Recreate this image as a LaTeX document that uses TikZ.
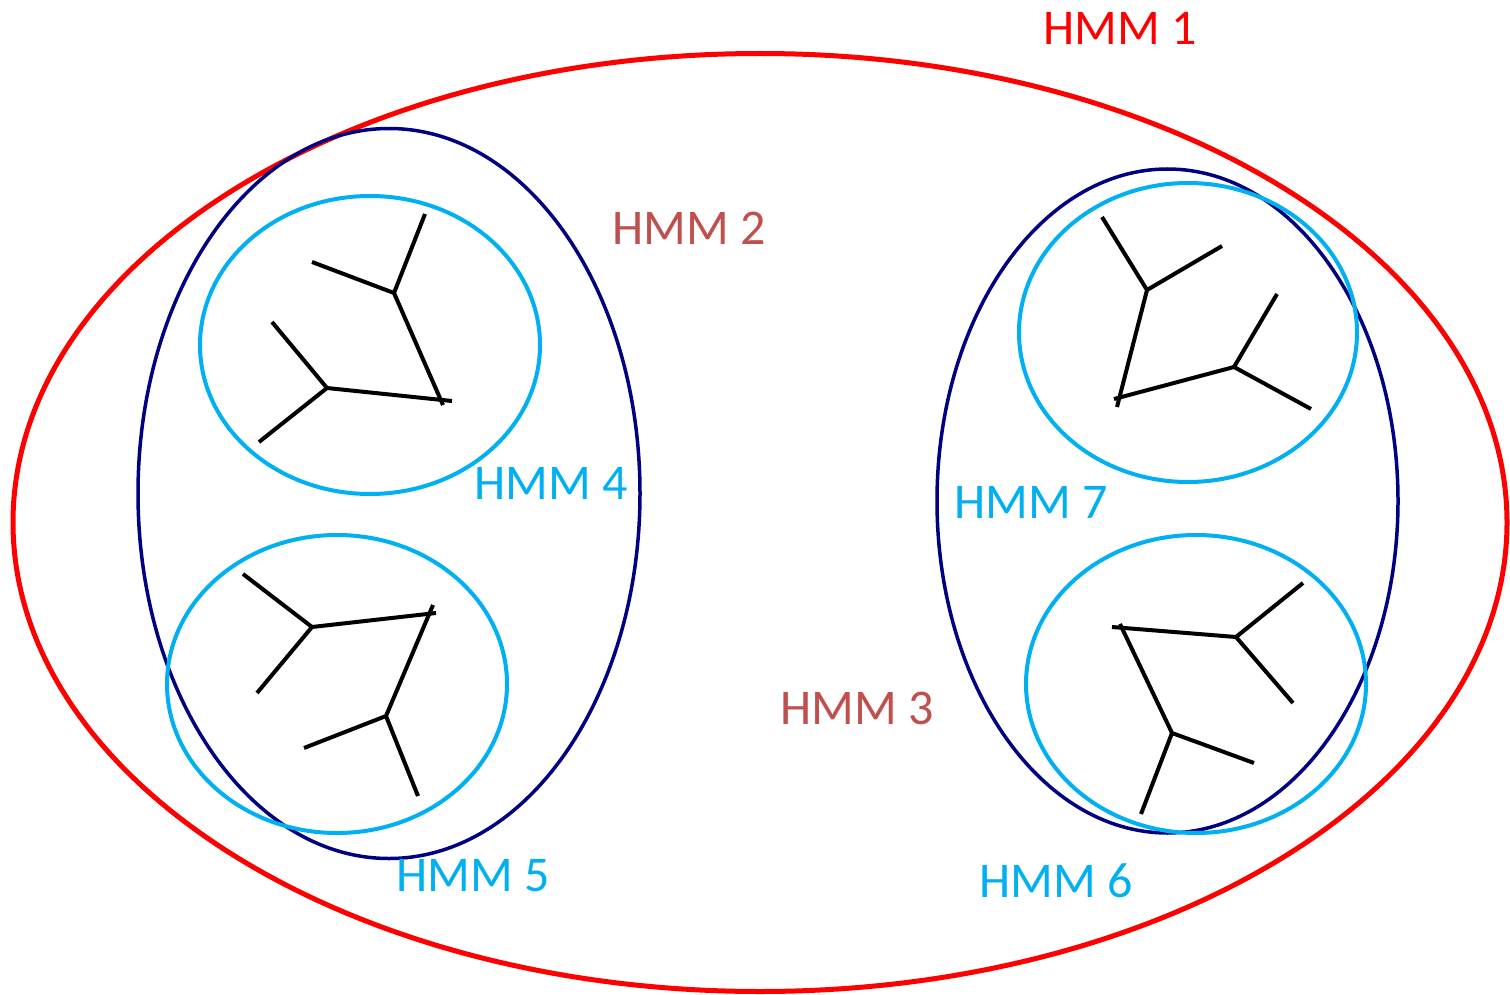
\documentclass[tikz,border=0pt]{standalone}
\usepackage{fontspec}
\setmainfont{Carlito}
\definecolor{hred}{HTML}{FF0000}
\definecolor{hnavy}{HTML}{000080}
\definecolor{hsky}{HTML}{00B0F0}
\definecolor{hbrick}{HTML}{C0504D}
\begin{document}
\begin{tikzpicture}[x=1pt,y=-1pt,
  outer/.style={draw=hred,line width=5pt},
  mid/.style={draw=hnavy,line width=3.5pt},
  inner/.style={draw=hsky,line width=4pt},
  branch/.style={draw=black,line width=4pt},
  lbl/.style={font=\fontsize{50}{60}\selectfont,inner sep=0pt,anchor=center}]
\useasboundingbox (0,0) rectangle (1510,995);
% ellipses
\draw[outer] (760,522.5) ellipse [x radius=747, y radius=469];
\draw[mid] (389,493.5) ellipse [x radius=251, y radius=365];
\draw[mid] (1167.5,501) ellipse [x radius=230.5, y radius=332];
\draw[inner] (370,345) ellipse [x radius=170, y radius=149];
\draw[inner] (337,684) ellipse [x radius=170, y radius=149];
\draw[inner] (1188,332.5) ellipse [x radius=169, y radius=149.5];
\draw[inner] (1196,684) ellipse [x radius=170, y radius=149];
% labels
\node[lbl,text=hred] (h1) at (1120,28) {HMM 1};
\node[lbl,text=hbrick] (h2) at (689,228) {HMM 2};
\node[lbl,text=hbrick] (h3) at (857,708) {HMM 3};
\node[lbl,text=hsky] (h4) at (551,483) {HMM 4};
\node[lbl,text=hsky] (h5) at (473,876) {HMM 5};
\node[lbl,text=hsky] (h6) at (1056,881) {HMM 6};
\node[lbl,text=hsky] (h7) at (1031,502) {HMM 7};
% tree 1 (top-left)
\coordinate (a1) at (394,293);
\coordinate (a2) at (327,388);
\coordinate (a1l) at (425,214);
\coordinate (a1m) at (312,262);
\coordinate (a1e) at (443,405);
\coordinate (a2l) at (272,322);
\coordinate (a2m) at (259,442);
\coordinate (a2e) at (452,401);
\draw[branch] (a1) -- (a1l) (a1) -- (a1m) (a1) -- (a1e);
\draw[branch] (a2) -- (a2l) (a2) -- (a2m) (a2) -- (a2e);
% tree 2 (bottom-left)
\coordinate (b1) at (312,627);
\coordinate (b2) at (386,716);
\coordinate (b1l) at (243,574);
\coordinate (b1m) at (257,693);
\coordinate (b1e) at (436,613);
\coordinate (b2l) at (304,748);
\coordinate (b2m) at (418,796);
\coordinate (b2e) at (433,605);
\draw[branch] (b1) -- (b1l) (b1) -- (b1m) (b1) -- (b1e);
\draw[branch] (b2) -- (b2l) (b2) -- (b2m) (b2) -- (b2e);
% tree 3 (top-right)
\coordinate (c1) at (1147,290);
\coordinate (c2) at (1234,367);
\coordinate (c1l) at (1102,217);
\coordinate (c1m) at (1222,246);
\coordinate (c1e) at (1117,407);
\coordinate (c2l) at (1277,294);
\coordinate (c2m) at (1311,409);
\coordinate (c2e) at (1114,399);
\draw[branch] (c1) -- (c1l) (c1) -- (c1m) (c1) -- (c1e);
\draw[branch] (c2) -- (c2l) (c2) -- (c2m) (c2) -- (c2e);
% tree 4 (bottom-right)
\coordinate (d1) at (1236,637);
\coordinate (d2) at (1172,733);
\coordinate (d1l) at (1303,583);
\coordinate (d1m) at (1293,703);
\coordinate (d1e) at (1112,627);
\coordinate (d2l) at (1254,763);
\coordinate (d2m) at (1141,814);
\coordinate (d2e) at (1120,624);
\draw[branch] (d1) -- (d1l) (d1) -- (d1m) (d1) -- (d1e);
\draw[branch] (d2) -- (d2l) (d2) -- (d2m) (d2) -- (d2e);
\end{tikzpicture}
\end{document}
